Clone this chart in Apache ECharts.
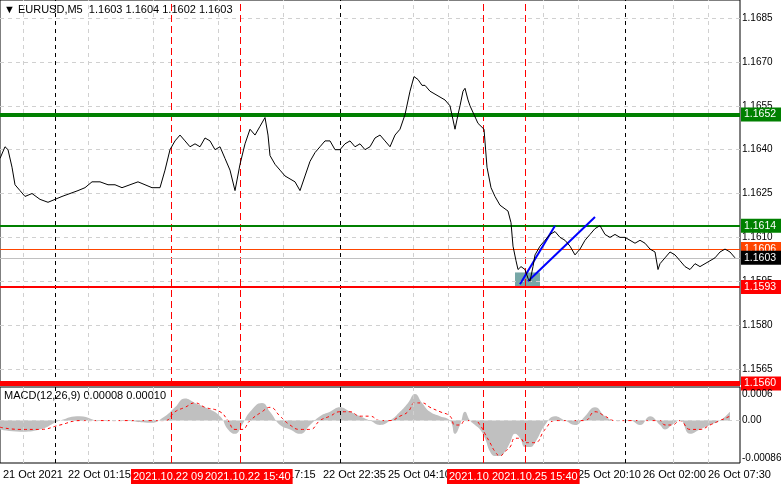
<!DOCTYPE html>
<html><head><meta charset="utf-8">
<script src="https://cdn.jsdelivr.net/npm/echarts@6/dist/echarts.min.js"></script>
<style>html,body{margin:0;padding:0;background:#fff}#c{width:781px;height:489px}</style>
</head><body><div id="c"></div>
<script>
// bar position (px-like index) and close price
var priceX = [0,5,8,12,15,20,25,32,40,48,55,62,70,78,85,92,100,108,115,122,130,138,145,152,160,165,170,175,180,185,190,195,200,205,210,215,220,225,230,235,240,245,250,255,260,265,268,270,275,280,285,290,295,300,305,310,315,320,325,330,335,340,345,350,355,360,365,370,375,380,385,390,395,400,405,410,414,418,422,425,430,435,440,445,450,455,458,460,463,465,468,470,474,478,481,484,487,491,495,500,504,508,511,513,516,518,521,525,528,530,533,535,540,545,550,555,560,565,570,575,580,585,590,595,600,605,610,615,620,625,630,635,640,645,650,655,658,660,665,670,675,680,685,690,695,700,705,710,715,720,725,730,735];
var priceY = [1.1637,1.1641,1.1640,1.1634,1.1628,1.1626,1.1624,1.1625,1.1623,1.1622,1.1623,1.1624,1.1625,1.1626,1.1627,1.1629,1.1629,1.1628,1.1628,1.1627,1.1628,1.1629,1.1628,1.1627,1.1627,1.1633,1.1640,1.1643,1.1645,1.1643,1.1641,1.1642,1.1641,1.1644,1.1643,1.1640,1.1641,1.1637,1.1633,1.1626,1.1635,1.1642,1.1647,1.1645,1.1648,1.1651,1.1645,1.1638,1.1635,1.1633,1.1631,1.1630,1.1629,1.1626,1.1631,1.1636,1.1639,1.1641,1.1643,1.1643,1.1640,1.1640,1.1642,1.1643,1.1641,1.1642,1.1640,1.1641,1.1644,1.1645,1.1643,1.1641,1.1645,1.1647,1.1652,1.1660,1.1665,1.1664,1.1662,1.1662,1.1660,1.1659,1.1658,1.1657,1.1655,1.1647,1.1652,1.1655,1.1660,1.1661,1.1657,1.1655,1.1652,1.1649,1.1648,1.1647,1.1634,1.1627,1.1624,1.1621,1.1620,1.1619,1.1615,1.1607,1.1602,1.1599,1.1600,1.1599,1.1596,1.1595,1.1600,1.1604,1.1607,1.1609,1.1611,1.1612,1.1610,1.1609,1.1607,1.1604,1.1606,1.1609,1.1611,1.1613,1.1614,1.1611,1.1610,1.1611,1.1610,1.1610,1.1609,1.1608,1.1609,1.1608,1.1606,1.1605,1.1599,1.1601,1.1603,1.1605,1.1604,1.1602,1.1600,1.1599,1.1601,1.1600,1.1601,1.1602,1.1603,1.1605,1.1606,1.1605,1.1603];
var macdX = [0,20,40,60,80,100,120,150,165,175,185,195,205,220,228,235,242,250,262,270,280,290,300,310,320,330,340,350,360,370,380,390,400,408,415,422,430,440,450,455,460,465,470,475,480,485,490,495,500,505,510,515,520,525,530,535,545,555,565,575,585,595,605,615,630,640,650,660,665,672,680,690,700,710,720,730];
var macdHist = [-0.0002,-0.00025,-0.0002,0.0,0.0001,0.0,0.0,-0.00005,0.0001,0.0003,0.0005,0.0004,0.0003,0.0001,-0.0002,-0.0003,-0.0001,0.0002,0.0004,0.0002,-0.0001,-0.0002,-0.0003,-0.0001,0.0001,0.0002,0.0003,0.0002,0.0001,0.0,-0.0001,0.0,0.0002,0.0004,0.0006,0.0004,0.0002,0.0001,0.0,-0.0003,-0.0001,0.0002,0.0,-0.0001,-0.0002,-0.0004,-0.0007,-0.0008,-0.0008,-0.0007,-0.0005,-0.0003,-0.0004,-0.0006,-0.0006,-0.0005,-0.0001,0.0001,0.0,-0.0001,0.0001,0.0003,0.0001,0.0,0.0,-0.0001,0.0001,-0.0001,-0.0002,-0.0001,0.0,-0.0003,-0.0002,-0.0001,0.0,0.0002];
var macdSignal = [-0.00015,-0.0002,-0.0002,-0.0001,0.0,0.0,0.0,0.0,0.0,0.0002,0.0003,0.0004,0.0003,0.0002,0.0,-0.0002,-0.0002,0.0,0.0002,0.0003,0.0001,-0.0001,-0.0002,-0.0002,0.0,0.0001,0.0002,0.0002,0.0001,0.0001,0.0,0.0,0.0001,0.0002,0.0004,0.0004,0.0003,0.0002,0.0001,-0.0001,-0.0001,0.0,0.0,0.0,-0.0001,-0.0003,-0.0005,-0.0007,-0.0008,-0.0007,-0.0006,-0.0004,-0.0004,-0.0005,-0.0005,-0.0005,-0.0002,0.0,0.0,0.0,0.0,0.0002,0.0001,0.0,0.0,0.0,0.0,0.0,-0.0001,-0.0001,0.0,-0.0002,-0.0002,-0.0001,0.0,0.0001];
var gridLevels = [1.1565,1.1580,1.1595,1.1610,1.1625,1.1640,1.1655,1.1670,1.1685];
var levels = [
  {v:1.1652, c:'#008000', w:4},
  {v:1.1614, c:'#008000', w:2},
  {v:1.1606, c:'#ff4500', w:1},
  {v:1.1603, c:'#c0c0c0', w:1, bg:'#000'},
  {v:1.1593, c:'#ff0000', w:2},
  {v:1.1560, c:'#ff0000', w:5}
];
var redVLines = [171,240,483,525];
var dayVLines = [55,340,625];
var greyVLines = [23,88,153,218,283,413,448,543,578,673,708];
var trendLines = [[[520,1.1594],[555,1.1614]],[[528,1.1595],[595,1.1617]]];
var zoneBox = [[515,1.1598],[540,1.1593]];
var timeLabels = [
  {x:3,t:'21 Oct 2021'},{x:68,t:'22 Oct 01:15'},{x:131,t:'2021.10.22 09:5',r:1},
  {x:203,t:'2021.10.22 15:40',r:1},{x:282,t:'t 17:15'},{x:323,t:'22 Oct 22:35'},
  {x:388,t:'25 Oct 04:10'},{x:447,t:'2021.10.',r:1},{x:490,t:'2021.10.25 15:40',r:1},
  {x:578,t:'25 Oct 20:10'},{x:643,t:'26 Oct 02:00'},{x:708,t:'26 Oct 07:30'}
];
var macdTicks = [0.0006,0.0,-0.00086];
var macdTickText = ['0.0006','0.00','-0.00086'];

var font = 'Liberation Sans';
var lblBase = {color: '#000', fontSize: 10, fontFamily: font, position: 'end', distance: 2};
function vlines(a, color, type) {
  return a.map(function (x) { return {xAxis: x, label: {show: false}, lineStyle: {color: color, type: type, width: 1}}; });
}
var vAll = vlines(greyVLines, '#d0d0d0', [4, 4]).concat(vlines(dayVLines, '#000', [4, 4])).concat(vlines(redVLines, '#ff0000', [7, 4]));

var mainLines = gridLevels.map(function (v) {
  return {yAxis: v, lineStyle: {color: '#d0d0d0', type: [4, 4], width: 1},
    label: Object.assign({formatter: v.toFixed(4)}, lblBase)};
}).concat(vAll).concat(levels.map(function (l) {
  return {yAxis: l.v, lineStyle: {color: l.c, type: 'solid', width: l.w},
    label: {show: true, position: 'end', distance: 1, formatter: l.v.toFixed(4), color: '#fff',
      backgroundColor: l.bg || l.c, padding: [2, 8, 1, 3], fontSize: 10.5, fontFamily: font}};
})).concat(trendLines.map(function (t) {
  return [{coord: t[0], lineStyle: {color: '#0000ff', width: 2, type: 'solid'}, label: {show: false}}, {coord: t[1]}];
}));

var macdLines = macdTicks.map(function (v, i) {
  return {yAxis: v, lineStyle: {color: v === 0 ? '#d0d0d0' : 'rgba(0,0,0,0)', type: [4, 4], width: 1},
    label: Object.assign({formatter: macdTickText[i]}, lblBase)};
}).concat(vAll);

var chart = echarts.init(document.getElementById('c'));
chart.setOption({
  animation: false,
  textStyle: {fontFamily: font},
  grid: [
    {left: 0, width: 740, top: 0, height: 385, show: true, borderColor: '#000', borderWidth: 1},
    {left: 0, width: 740, top: 387, height: 76, show: true, borderColor: '#000', borderWidth: 1}
  ],
  xAxis: [
    {type: 'value', gridIndex: 0, min: 0, max: 740, show: false},
    {type: 'value', gridIndex: 1, min: 0, max: 740, show: false}
  ],
  yAxis: [
    {type: 'value', gridIndex: 0, min: 1.15595, max: 1.16912, show: false},
    {type: 'value', gridIndex: 1, min: -0.00096, max: 0.00076, show: false}
  ],
  graphic: [
    {type: 'text', left: 4, top: 4, style: {text: '\u25BC EURUSD,M5  1.1603 1.1604 1.1602 1.1603', font: '11px ' + font, fill: '#000'}},
    {type: 'text', left: 4, top: 390, style: {text: 'MACD(12,26,9) 0.00008 0.00010', font: '11px ' + font, fill: '#000'}}
  ].concat(timeLabels.map(function (l) {
    return {type: 'text', left: l.x, top: 469, z: l.r ? 20 : 10, style: {text: l.t, font: '11px ' + font, fill: l.r ? '#fff' : '#000',
      backgroundColor: l.r ? '#ff0000' : null, padding: l.r ? [2, 2, 2, 2] : 0}};
  })),
  series: [
    {type: 'line', xAxisIndex: 0, yAxisIndex: 0, showSymbol: false, z: 5,
      lineStyle: {color: '#000', width: 1},
      data: priceX.map(function (x, i) { return [x, priceY[i]]; }),
      markArea: {silent: true, itemStyle: {color: 'rgba(60,130,130,0.7)'},
        data: [[{coord: zoneBox[0]}, {coord: zoneBox[1]}]]},
      markLine: {symbol: 'none', silent: true, animation: false, precision: 6, data: mainLines}},
    {type: 'line', xAxisIndex: 1, yAxisIndex: 1, showSymbol: false, smooth: true,
      lineStyle: {width: 0}, areaStyle: {color: '#c0c0c0', opacity: 1},
      data: macdX.map(function (x, i) { return [x, macdHist[i]]; }),
      markLine: {symbol: 'none', silent: true, animation: false, precision: 6, data: macdLines}},
    {type: 'line', xAxisIndex: 1, yAxisIndex: 1, showSymbol: false, smooth: true,
      lineStyle: {color: '#ff0000', width: 1, type: [3, 3]},
      data: macdX.map(function (x, i) { return [x, macdSignal[i]]; })}
  ]
});
</script></body></html>
